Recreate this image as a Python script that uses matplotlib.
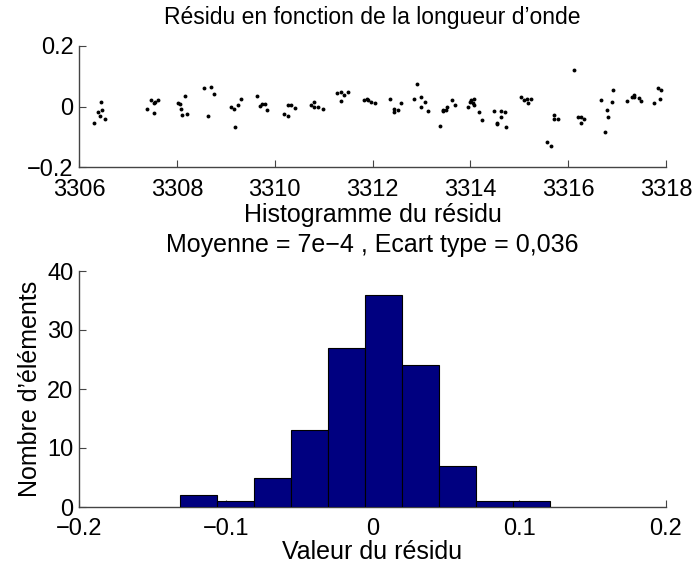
import matplotlib
matplotlib.use("Agg")
import matplotlib.pyplot as plt
import numpy as np

plt.rcParams['font.family'] = ['Liberation Sans', 'DejaVu Sans']

# Residual scatter (wavelength, residual)
wavelength = [
    3306.313, 3306.395, 3306.435, 3306.450, 3306.470, 3306.531,
    3307.396, 3307.478, 3307.527, 3307.539, 3307.560, 3307.621,
    3308.018, 3308.059, 3308.085, 3308.099, 3308.167, 3308.202,
    3308.555, 3308.704, 3308.753, 3308.637,
    3309.101, 3309.162, 3309.183, 3309.250, 3309.312,
    3309.645, 3309.706, 3309.735, 3309.796, 3309.849,
    3310.197, 3310.266, 3310.266, 3310.344, 3310.415,
    3310.736, 3310.804, 3310.814, 3310.886, 3310.982,
    3311.274, 3311.350, 3311.360, 3311.423, 3311.493,
    3311.820, 3311.893, 3311.908, 3311.975, 3312.045,
    3312.364, 3312.446, 3312.446, 3312.521, 3312.592,
    3312.842, 3312.909, 3312.985, 3312.987, 3313.067, 3313.140,
    3313.386, 3313.447, 3313.451, 3313.502, 3313.529, 3313.619, 3313.686,
    3313.943, 3313.998, 3314.012, 3314.045, 3314.074, 3314.080, 3314.176, 3314.229,
    3314.483, 3314.545, 3314.551, 3314.620, 3314.627, 3314.702, 3314.722,
    3315.029, 3315.097, 3315.158, 3315.178, 3315.240,
    3315.567, 3315.643, 3315.710, 3315.710, 3315.785,
    3316.112, 3316.200, 3316.255, 3316.255, 3316.329,
    3316.664, 3316.758, 3316.793, 3316.813, 3316.889, 3316.922,
    3317.208, 3317.298, 3317.339, 3317.351, 3317.441, 3317.482,
    3317.754, 3317.842, 3317.897, 3317.876,
]
residual = [
    -0.056, -0.019, -0.032, 0.015, -0.010, -0.040,
    -0.008, 0.022, -0.021, 0.011, 0.014, 0.020,
    0.011, 0.009, -0.007, -0.027, 0.036, -0.026,
    0.062, 0.065, 0.040, -0.032,
    -0.003, -0.009, -0.069, 0.004, 0.024,
    0.034, 0.001, 0.009, 0.008, -0.012,
    -0.024, -0.031, 0.006, 0.006, -0.006,
    0.006, 0.016, -0.001, -0.001, -0.007,
    0.044, 0.049, 0.019, 0.038, 0.047,
    0.023, 0.025, 0.021, 0.016, 0.012,
    0.024, -0.007, -0.017, -0.012, 0.011,
    0.026, 0.073, 0.030, -0.001, 0.014, -0.015,
    -0.064, -0.016, -0.011, -0.011, -0.001, 0.022, 0.004,
    -0.002, 0.014, 0.022, 0.013, 0.025, 0.006, -0.019, -0.046,
    -0.015, -0.054, -0.058, -0.014, -0.036, -0.019, -0.068,
    0.030, 0.020, 0.025, 0.012, 0.025,
    -0.116, -0.131, -0.029, -0.040, -0.040,
    0.121, -0.035, -0.035, -0.054, -0.041,
    0.023, -0.085, -0.010, -0.036, 0.014, 0.055,
    0.019, 0.032, 0.037, 0.031, 0.027, 0.019,
    0.012, 0.060, 0.055, 0.026,
]

# Histogram counts (10 bins between min and max residual)
hist_counts = [2, 1, 5, 13, 27, 36, 24, 7, 1, 1]
hist_min = -0.131
hist_max = 0.121

top_xticks = [3306, 3308, 3310, 3312, 3314, 3316, 3318]
top_yticks = [-0.2, 0, 0.2]
top_ylabels = ['\u22120.2', '0', '0.2']
hist_xticks = [-0.2, -0.1, 0, 0.1, 0.2]
hist_xlabels = ['\u22120.2', '\u22120.1', '0', '0.1', '0.2']
hist_yticks = [0, 10, 20, 30, 40]

FS = 17
W, H = 694, 569
fig = plt.figure(figsize=(W / 100, H / 100), dpi=100)

spine_col = '#444444'

def style(ax):
    for s in ['top', 'right']:
        ax.spines[s].set_visible(False)
    for s in ['left', 'bottom']:
        ax.spines[s].set_color(spine_col)
        ax.spines[s].set_linewidth(1.0)
    ax.tick_params(direction='in', length=5, width=0.8, color=spine_col,
                   labelsize=FS, pad=4)

# Top scatter
ax1 = fig.add_axes([79 / W, 1 - 167 / H, 587 / W, 121 / H])
ax1.plot(wavelength, residual, 'o', color='k', ms=2.8, mec='none')
ax1.set_xlim(3306, 3318)
ax1.set_ylim(-0.2, 0.2)
ax1.set_xticks(top_xticks)
ax1.set_xticklabels([str(t) for t in top_xticks])
ax1.set_yticks(top_yticks)
ax1.set_yticklabels(top_ylabels)
style(ax1)
ax1.tick_params(axis='x', pad=9)
ax1.set_title("Résidu en fonction de la longueur d\u2019onde", fontsize=16.5, pad=16)

# Histogram
ax2 = fig.add_axes([79 / W, 1 - 507 / H, 587 / W, 236 / H])
edges = np.linspace(hist_min, hist_max, len(hist_counts) + 1)
ax2.bar(edges[:-1], hist_counts, width=np.diff(edges), align='edge',
        color='#000080', edgecolor='black', linewidth=0.8, zorder=3)
ax2.set_xlim(-0.2, 0.2)
ax2.set_ylim(0, 40)
ax2.set_xticks(hist_xticks)
ax2.set_xticklabels(hist_xlabels)
ax2.set_yticks(hist_yticks)
style(ax2)
ax2.tick_params(axis='x', pad=8)
ax2.set_title("Histogramme du résidu\nMoyenne = 7e\u22124 , Ecart type = 0,036",
              fontsize=18, pad=14, linespacing=1.3)
ax2.set_xlabel("Valeur du résidu", fontsize=18, labelpad=0)
ax2.set_ylabel("Nombre d\u2019éléments", fontsize=18, labelpad=4)

fig.savefig("out.png", dpi=100)
